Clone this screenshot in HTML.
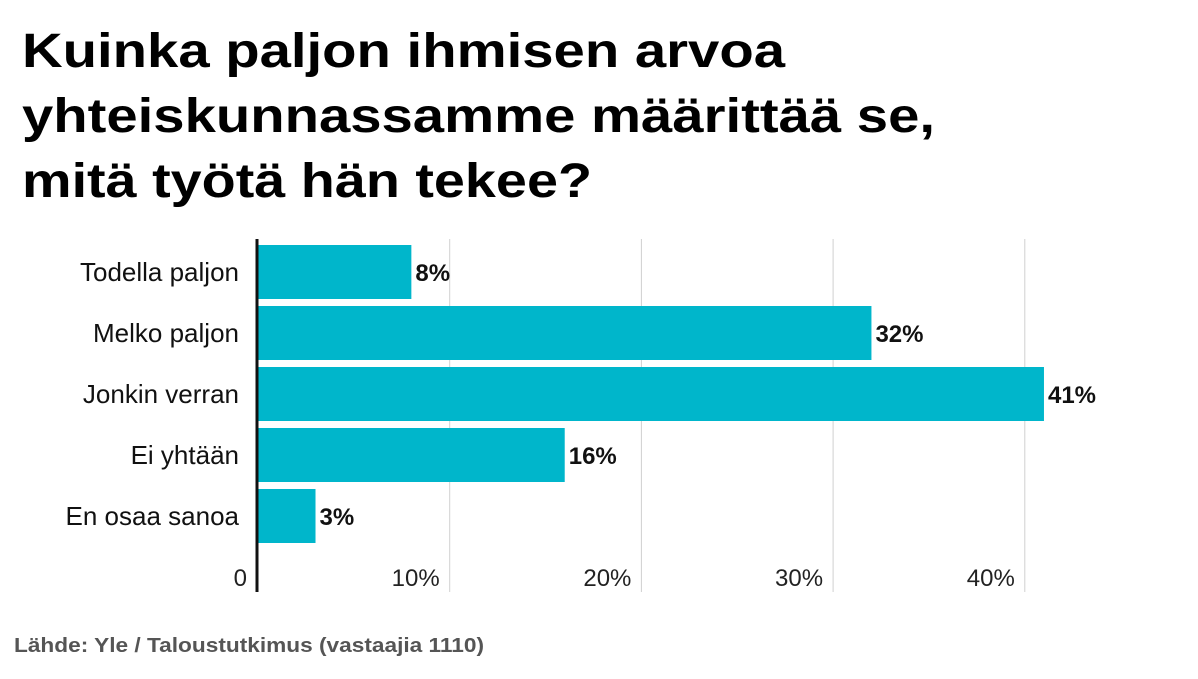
<!DOCTYPE html>
<html><head><meta charset="utf-8"><style>
body{margin:0;background:#fff;width:1198px;height:679px;overflow:hidden}
svg{display:block;font-family:"Liberation Sans",sans-serif}
</style></head><body>
<svg id="chart" width="1198" height="679">
<g font-size="48" font-weight="bold" fill="#000">
<text x="22" y="67" textLength="763" lengthAdjust="spacingAndGlyphs">Kuinka paljon ihmisen arvoa</text>
<text x="22" y="132" textLength="913" lengthAdjust="spacingAndGlyphs">yhteiskunnassamme määrittää se,</text>
<text x="22" y="197" textLength="570" lengthAdjust="spacingAndGlyphs">mitä työtä hän tekee?</text>
</g>
<g id="grid"></g><g id="bars"></g><g id="labels"></g>
<text x="14" y="652" font-size="20" font-weight="bold" fill="#555" textLength="470" lengthAdjust="spacingAndGlyphs">Lähde: Yle / Taloustutkimus (vastaajia 1110)</text>
</svg>
<script>
const categories=["Todella paljon","Melko paljon","Jonkin verran","Ei yhtään","En osaa sanoa"];
const values=[8,32,41,16,3];
const ticks=[10,20,30,40];
const tickLabels=["10%","20%","30%","40%"];
const NS="http://www.w3.org/2000/svg";
const x0=258,pxPer=19.17,barTop=245,step=61,bh=54;
const xs=v=>x0+v*pxPer;
function mk(t,a,p,txt){const e=document.createElementNS(NS,t);for(const k in a)e.setAttribute(k,a[k]);if(txt!==undefined)e.textContent=txt;p.appendChild(e);return e;}
const g=document.getElementById('grid'),b=document.getElementById('bars'),l=document.getElementById('labels');
ticks.forEach((t,i)=>{
 const ln=mk('line',{x1:xs(t),x2:xs(t),y1:239,y2:592,stroke:'#d0d0d0','stroke-width':1},g);
 
 
 const tx=mk('text',{x:xs(t)-10,y:586,'text-anchor':'end','font-size':24,fill:'#222'},g,tickLabels[i]);
 
 
});
const z=mk('text',{x:247,y:586,'text-anchor':'end','font-size':24,fill:'#222'},g,'0');


categories.forEach((c,i)=>{
 const y=barTop+i*step;
 const r=mk('rect',{x:x0,y:y,width:xs(values[i])-x0,height:bh,fill:'#00b6cb'},b);
 
 
 const cl=mk('text',{x:239,y:y+bh/2+9,'text-anchor':'end','font-size':26,fill:'#111'},l,c);
 
 
 const vl=mk('text',{x:xs(values[i])+4,y:y+bh/2+9,'font-size':24,'font-weight':'bold',fill:'#111'},l,values[i]+'%');
 
 
});
const ax=mk('line',{x1:257,x2:257,y1:239,y2:592,stroke:'#111','stroke-width':3},l);


</script>
</body></html>
